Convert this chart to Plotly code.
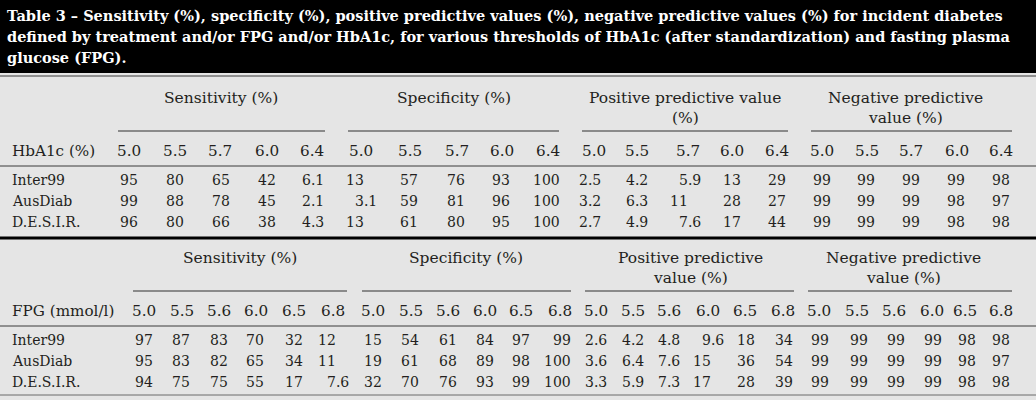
import plotly.graph_objects as go

# ---------------- data ----------------
title_lines = [
    "Table 3 – Sensitivity (%), specificity (%), positive predictive values (%), negative predictive values (%) for incident diabetes",
    "defined by treatment and/or FPG and/or HbA1c, for various thresholds of HbA1c (after standardization) and fasting plasma",
    "glucose (FPG).",
]
cohorts = ["Inter99", "AusDiab", "D.E.S.I.R."]

hba1c_label = "HbA1c (%)"
hba1c_thresholds = ["5.0", "5.5", "5.7", "6.0", "6.4"]
hba1c_measures = ["Sensitivity (%)", "Specificity (%)",
                  "Positive predictive value\n(%)", "Negative predictive\nvalue (%)"]
hba1c_sensitivity = [[95, 80, 65, 42, 6.1], [99, 88, 78, 45, 2.1], [96, 80, 66, 38, 4.3]]
hba1c_specificity = [[13, 57, 76, 93, 100], [3.1, 59, 81, 96, 100], [13, 61, 80, 95, 100]]
hba1c_ppv = [[2.5, 4.2, 5.9, 13, 29], [3.2, 6.3, 11, 28, 27], [2.7, 4.9, 7.6, 17, 44]]
hba1c_npv = [[99, 99, 99, 99, 98], [99, 99, 99, 98, 97], [99, 99, 99, 98, 98]]

fpg_label = "FPG (mmol/l)"
fpg_thresholds = ["5.0", "5.5", "5.6", "6.0", "6.5", "6.8"]
fpg_measures = ["Sensitivity (%)", "Specificity (%)",
                "Positive predictive\nvalue (%)", "Negative predictive\nvalue (%)"]
fpg_sensitivity = [[97, 87, 83, 70, 32, 12], [95, 83, 82, 65, 34, 11], [94, 75, 75, 55, 17, 7.6]]
fpg_specificity = [[15, 54, 61, 84, 97, 99], [19, 61, 68, 89, 98, 100], [32, 70, 76, 93, 99, 100]]
fpg_ppv = [[2.6, 4.2, 4.8, 9.6, 18, 34], [3.6, 6.4, 7.6, 15, 36, 54], [3.3, 5.9, 7.3, 17, 28, 39]]
fpg_npv = [[99, 99, 99, 99, 98, 98], [99, 99, 99, 99, 98, 97], [99, 99, 99, 99, 98, 98]]

# ---------------- layout / style ----------------
W, H = 1036, 400
BG = "#e5e5e5"
INK = "#231f20"
FONT = "DejaVu Serif"
DATA_SIZE = 14
HEAD_SIZE = 15.2
GROUP_SIZE = 15.5
TITLE_SIZE = 14.5
FRAC_W = 13.3          # width of ".d" used for decimal alignment

title_x = 7
title_ys = [15, 36, 57]

tables = [
    dict(label=hba1c_label, thresholds=hba1c_thresholds, measures=hba1c_measures,
         blocks=[hba1c_sensitivity, hba1c_specificity, hba1c_ppv, hba1c_npv],
         y0=0,
         head_x=[129, 175, 220, 267, 312, 361, 410, 457, 502, 548,
                 594, 637, 688, 732, 777, 822, 867, 911, 957, 1001],
         dec_x=[137, 183, 229, 275, 310, 363, 417, 464, 509, 559,
                587, 634, 687, 740, 785, 830, 874, 919, 964, 1009],
         group_x=[221, 454, 685, 905],
         group_span=[(118, 325), (348, 559), (582, 788), (811, 1012)],
         bottom=("thick", 238)),
    dict(label=fpg_label, thresholds=fpg_thresholds, measures=fpg_measures,
         blocks=[fpg_sensitivity, fpg_specificity, fpg_ppv, fpg_npv],
         y0=160,
         head_x=[144, 182, 219, 256, 294, 333, 373, 411, 448, 485, 521, 560,
                 596, 633, 669, 708, 745, 783, 819, 857, 894, 932, 965, 1001],
         dec_x=[152, 189, 227, 263, 302, 335, 381, 418, 456, 493, 529, 570,
                593, 630, 666, 710, 754, 792, 828, 867, 904, 941, 975, 1009],
         group_x=[240, 466, 690, 903],
         group_span=[(133, 347), (362, 571), (585, 794), (808, 1012)],
         bottom=("thin", 395)),
]
GROUP_Y = 98
GROUP_LINE_DY = 20
UNDERLINE_Y = 131
HEAD_Y = 151
HEAD_RULE_Y = 166
ROW_YS = [180, 201, 222]
LABEL_X = 12

fig = go.Figure()
shapes = []
annotations = []


def add_text(x, y, s, anchor="center", size=DATA_SIZE, color=INK, weight="normal"):
    annotations.append(dict(
        x=x, y=y, xref="x", yref="y", text=s, showarrow=False,
        xanchor=anchor, yanchor="middle", borderpad=0, borderwidth=0,
        font=dict(family=FONT, size=size, color=color, weight=weight)))


def add_line(x0, x1, y, color, width):
    shapes.append(dict(type="line", xref="x", yref="y", x0=x0, x1=x1, y0=y, y1=y,
                       line=dict(color=color, width=width)))


# title band
shapes.append(dict(type="rect", xref="x", yref="y", x0=0, x1=W, y0=0, y1=73,
                   fillcolor="#000000", line=dict(width=0), layer="below"))
for line, y in zip(title_lines, title_ys):
    add_text(title_x, y, line, anchor="left", size=TITLE_SIZE, color="#ffffff", weight="bold")
add_line(0, W, 76, "#3a3a3a", 1)

for t in tables:
    dy = t["y0"]
    # group headers
    for name, gx, (sx0, sx1) in zip(t["measures"], t["group_x"], t["group_span"]):
        for li, part in enumerate(name.split("\n")):
            add_text(gx, GROUP_Y + dy + li * GROUP_LINE_DY, part, size=GROUP_SIZE)
        add_line(sx0, sx1, UNDERLINE_Y + dy, "#6b6b6b", 1.5)
    # header row
    add_text(LABEL_X, HEAD_Y + dy, t["label"], anchor="left", size=HEAD_SIZE)
    n = len(t["thresholds"])
    for bi in range(len(t["blocks"])):
        for ci, thr in enumerate(t["thresholds"]):
            add_text(t["head_x"][bi * n + ci], HEAD_Y + dy, thr, size=HEAD_SIZE)
    add_line(0, W, HEAD_RULE_Y + dy, "#3a3a3a", 1)
    # data rows
    for ri, (cohort, ry) in enumerate(zip(cohorts, ROW_YS)):
        add_text(LABEL_X, ry + dy, cohort, anchor="left")
        for bi, block in enumerate(t["blocks"]):
            for ci, v in enumerate(block[ri]):
                s = f"{v:g}"
                x = t["dec_x"][bi * n + ci] + 0.7
                if "." in s:
                    x += FRAC_W
                add_text(x, ry + dy, s, anchor="right")
    kind, by = t["bottom"]
    if kind == "thick":
        add_line(0, W, by, "#000000", 3)
    else:
        add_line(0, W, by, "#6b6b6b", 1)

fig.update_layout(
    width=W, height=H, margin=dict(l=0, r=0, t=0, b=0),
    paper_bgcolor=BG, plot_bgcolor=BG,
    xaxis=dict(range=[0, W], visible=False, fixedrange=True),
    yaxis=dict(range=[H, 0], visible=False, fixedrange=True),
    shapes=shapes, annotations=annotations, showlegend=False,
)
fig.write_html("out.html", config={"displayModeBar": False},
               post_script="document.body.style.margin='0px';")
